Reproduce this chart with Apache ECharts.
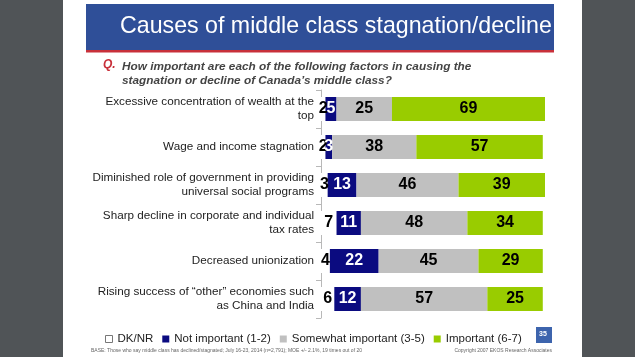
<!DOCTYPE html>
<html><head><meta charset="utf-8">
<script src="https://cdn.jsdelivr.net/npm/echarts@6/dist/echarts.min.js"></script>
<style>html,body{margin:0;padding:0;background:#505457;}#c{width:635px;height:357px;}</style>
</head><body><div id="c"></div>
<script>
const categories = [
  "Excessive concentration of wealth at the\ntop",
  "Wage and income stagnation",
  "Diminished role of government in providing\nuniversal social programs",
  "Sharp decline in corporate and individual\ntax rates",
  "Decreased unionization",
  "Rising success of \u201cother\u201d economies such\nas China and India"
];
const seriesNames = ["DK/NR", "Not important (1-2)", "Somewhat important (3-5)", "Important (6-7)"];
const dkNr = [2, 2, 3, 7, 4, 6];
const notImportant = [5, 3, 13, 11, 22, 12];
const somewhatImportant = [25, 38, 46, 48, 45, 57];
const important = [69, 57, 39, 34, 29, 25];

const chart = echarts.init(document.getElementById('c'), null, {renderer: 'canvas'});
const FONT = 'Liberation Sans, Arial, sans-serif';
function lbl(color) {
  return {show: true, position: 'inside', color: color, fontSize: 16, fontWeight: 'bold', fontFamily: FONT};
}
const option = {
  backgroundColor: '#505457',
  animation: false,
  graphic: [
    {type: 'rect', shape: {x: 63, y: 0, width: 519, height: 357}, style: {fill: '#ffffff'}, z: -10},
    {type: 'rect', shape: {x: 86, y: 4, width: 468, height: 46}, style: {fill: '#2f4f98'}, z: -5},
    {type: 'rect', shape: {x: 86, y: 50, width: 468, height: 2.5}, style: {fill: '#c8303a'}, z: -5},
    {type: 'text', left: 120, top: 15, style: {text: 'Causes of middle class stagnation/decline', fill: '#ffffff', font: '23.2px ' + FONT}},
    {type: 'text', left: 103, top: 59, style: {text: 'Q.', fill: '#c8303a', font: 'italic bold 12px ' + FONT}},
    {type: 'text', left: 122, top: 59, style: {text: 'How important are each of the following factors in causing the\nstagnation or decline of Canada\u2019s middle class?', fill: '#444444', font: 'italic bold 11.8px ' + FONT, lineHeight: 14.5}},
    {type: 'rect', shape: {x: 536, y: 327, width: 16, height: 16}, style: {fill: '#3d64ad'}},
    {type: 'text', left: 539, top: 331, style: {text: '35', fill: '#ffffff', font: 'bold 7px ' + FONT}},
    {type: 'text', left: 91, top: 348, style: {text: 'BASE: Those who say middle class has declined/stagnated; July 16-23, 2014 (n=2,791); MOE +/- 2.1%, 19 times out of 20', fill: '#666666', font: '5px ' + FONT}},
    {type: 'text', right: 83, top: 348, style: {text: 'Copyright 2007 EKOS Research Associates', fill: '#666666', font: '5px ' + FONT}}
  ],
  legend: {
    left: 100, top: 328,
    itemWidth: 7, itemHeight: 7, itemGap: 9,
    icon: 'rect',
    textStyle: {fontSize: 11.5, color: '#222222', fontFamily: FONT},
    data: [
      {name: seriesNames[0], itemStyle: {color: '#ffffff', borderColor: '#777777', borderWidth: 1}},
      {name: seriesNames[1]}, {name: seriesNames[2]}, {name: seriesNames[3]}
    ]
  },
  grid: {left: 321, top: 90, width: 224, height: 228},
  xAxis: {type: 'value', min: 0, max: 101, show: false},
  yAxis: {
    type: 'category', data: categories, inverse: true,
    axisLine: {show: true, lineStyle: {color: '#b8b8b8'}},
    axisTick: {show: true, length: 5, lineStyle: {color: '#b8b8b8'}},
    axisLabel: {margin: 7, fontSize: 11.7, color: '#222222', fontFamily: FONT, lineHeight: 14, align: 'right'}
  },
  series: [
    {name: seriesNames[0], type: 'bar', stack: 's', data: dkNr, barWidth: 24,
     itemStyle: {color: '#ffffff'}, label: lbl('#000000')},
    {name: seriesNames[1], type: 'bar', stack: 's', data: notImportant, barWidth: 24,
     itemStyle: {color: '#0b0b80'}, label: lbl('#ffffff')},
    {name: seriesNames[2], type: 'bar', stack: 's', data: somewhatImportant, barWidth: 24,
     itemStyle: {color: '#c0c0c0'}, label: lbl('#000000')},
    {name: seriesNames[3], type: 'bar', stack: 's', data: important, barWidth: 24,
     itemStyle: {color: '#99cc00'}, label: lbl('#000000')}
  ]
};
chart.setOption(option);
</script>
</body></html>
